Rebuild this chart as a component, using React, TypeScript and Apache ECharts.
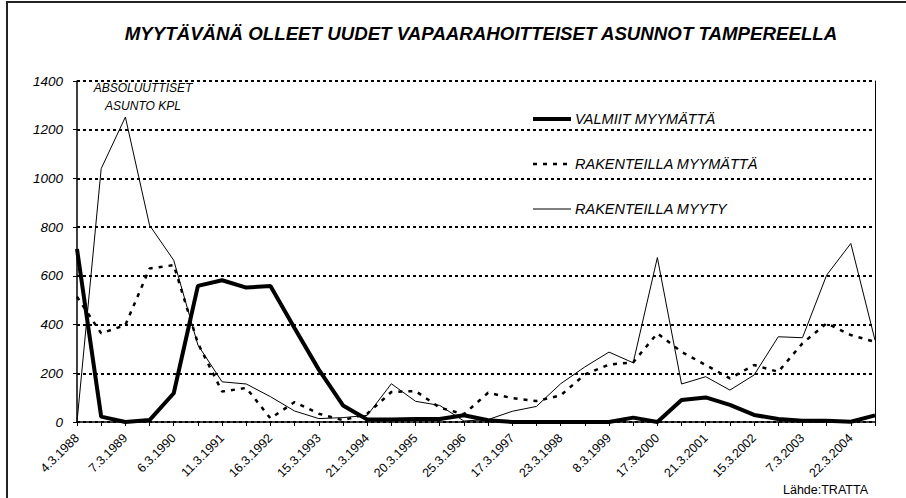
import React, { useEffect, useRef } from "react";
import * as echarts from "echarts";

const tickLabels = [
  "4.3.1988", "7.3.1989", "6.3.1990", "11.3.1991", "16.3.1992", "15.3.1993",
  "21.3.1994", "20.3.1995", "25.3.1996", "17.3.1997", "23.3.1998", "8.3.1999",
  "17.3.2000", "21.3.2001", "15.3.2002", "7.3.2003", "22.3.2004",
];

const valmiitMyymatta = [
  710, 22, 0, 8, 118, 559, 582, 552, 558, 385, 215, 68, 10, 10, 12, 12, 28,
  7, 0, 0, 0, 0, 0, 18, 0, 90, 101, 70, 29, 12, 5, 5, 1, 27,
];
const rakenteillaMyymatta = [
  514, 364, 398, 630, 644, 323, 125, 140, 15, 82, 34, 7, 34, 123, 127, 59, 32,
  120, 98, 86, 109, 195, 236, 245, 364, 288, 234, 179, 234, 206, 323, 405, 357, 329,
];
const rakenteillaMyyty = [
  0, 1040, 1252, 808, 664, 316, 165, 156, 104, 45, 14, 18, 27, 157, 85, 68, 4,
  10, 44, 64, 157, 226, 287, 243, 675, 156, 186, 131, 193, 350, 346, 603, 733, 336,
];

const seriesNames = ["VALMIIT MYYMÄTTÄ", "RAKENTEILLA MYYMÄTTÄ", "RAKENTEILLA MYYTY"];

const FONT = "'Liberation Sans', Arial, sans-serif";

const lineStyles = [
  { color: "#000", width: 4, type: "solid" as any },
  { color: "#000", width: 2.5, type: [4, 6] as any },
  { color: "#000", width: 1, type: "solid" as any },
];

export default function App() {
  const ref = useRef<HTMLDivElement>(null);
  useEffect(() => {
    if (!ref.current) return;
    const chart = echarts.init(ref.current, undefined, { renderer: "svg" });
    const n = valmiitMyymatta.length;
    const categories: string[] = [];
    for (let i = 0; i < n; i++) categories.push(i % 2 === 0 ? tickLabels[i / 2] ?? "" : "");
    const seriesData = [valmiitMyymatta, rakenteillaMyymatta, rakenteillaMyyty];

    const legendChildren: any[] = [
      {
        type: "rect",
        shape: { x: 0, y: 0, width: 248, height: 132 },
        style: { fill: "#fff", stroke: "none" },
      },
    ];
    seriesNames.forEach((name, i) => {
      const cy = 19 + i * 45;
      const ls = lineStyles[i];
      legendChildren.push({
        type: "line",
        shape: { x1: 11, y1: cy, x2: 49, y2: cy },
        style: {
          stroke: "#000",
          lineWidth: ls.width,
          lineDash: Array.isArray(ls.type) ? ls.type : null,
        },
      });
      legendChildren.push({
        type: "text",
        x: 53,
        y: cy,
        style: {
          text: name,
          font: `italic 14.5px ${FONT}`,
          fill: "#000",
          verticalAlign: "middle",
        },
      });
    });

    chart.setOption({
      animation: false,
      backgroundColor: "#fff",
      textStyle: { fontFamily: FONT, color: "#000" },
      title: {
        text: "MYYTÄVÄNÄ OLLEET UUDET VAPAARAHOITTEISET ASUNNOT TAMPEREELLA",
        left: 476,
        textAlign: "center",
        top: 19,
        textStyle: { fontFamily: FONT, fontSize: 18.7, fontWeight: "bold", fontStyle: "italic", color: "#000" },
      },
      grid: { left: 77, right: 31, top: 81, bottom: 76, containLabel: false },
      xAxis: {
        type: "category",
        data: categories,
        boundaryGap: false,
        axisLine: { show: true, lineStyle: { color: "#000", width: 1.5 } },
        axisTick: { show: true, interval: 0, length: 4, lineStyle: { color: "#000" } },
        axisLabel: {
          interval: 1,
          rotate: 45,
          margin: 14,
          fontSize: 12.5,
          fontFamily: FONT,
          color: "#000",
        },
        splitLine: { show: false },
      },
      yAxis: [
        {
          type: "value",
          min: 0,
          max: 1400,
          interval: 200,
          axisLine: { show: true, lineStyle: { color: "#000", width: 1.5 } },
          axisTick: { show: true, length: 4, lineStyle: { color: "#000" } },
          axisLabel: {
            fontSize: 13.5,
            fontStyle: "italic",
            fontFamily: FONT,
            color: "#000",
            margin: 14,
            formatter: (v: number) => String(v),
          },
          splitLine: { show: true, lineStyle: { color: "#000", width: 2, type: [3, 3] } },
        },
        {
          type: "value",
          min: 0,
          max: 1400,
          interval: 200,
          position: "right",
          axisLine: { show: true, lineStyle: { color: "#000", width: 1 } },
          axisTick: { show: false },
          axisLabel: { show: false },
          splitLine: { show: false },
        },
      ],
      series: seriesNames.map((name, i) => ({
        name,
        type: "line",
        data: seriesData[i],
        symbol: "none",
        lineStyle: lineStyles[i],
        itemStyle: { color: "#000" },
        z: 5 - i,
      })),
      graphic: [
        {
          type: "rect",
          shape: { x: 7, y: 2, width: 1000, height: 1000 },
          style: { fill: "none", stroke: "#222", lineWidth: 2 },
          silent: true,
          z: 100,
        },
        {
          type: "group",
          x: 522,
          y: 100,
          z: 100,
          children: legendChildren,
        },
        {
          type: "text",
          x: 143,
          y: 82,
          z: 100,
          style: {
            text: "ABSOLUUTTISET",
            textAlign: "center",
            font: `italic 12px ${FONT}`,
            fill: "#000",
          },
        },
        {
          type: "text",
          x: 143,
          y: 100,
          z: 100,
          style: {
            text: "ASUNTO KPL",
            textAlign: "center",
            font: `italic 12px ${FONT}`,
            fill: "#000",
          },
        },
        {
          type: "text",
          x: 783,
          y: 483,
          z: 100,
          style: {
            text: "Lähde:TRATTA",
            font: `12.5px ${FONT}`,
            fill: "#000",
          },
        },
      ],
    });
    return () => chart.dispose();
  }, []);
  return (
    <div
      ref={ref}
      style={{ position: "fixed", left: 0, top: 0, width: 906, height: 498 }}
    />
  );
}
